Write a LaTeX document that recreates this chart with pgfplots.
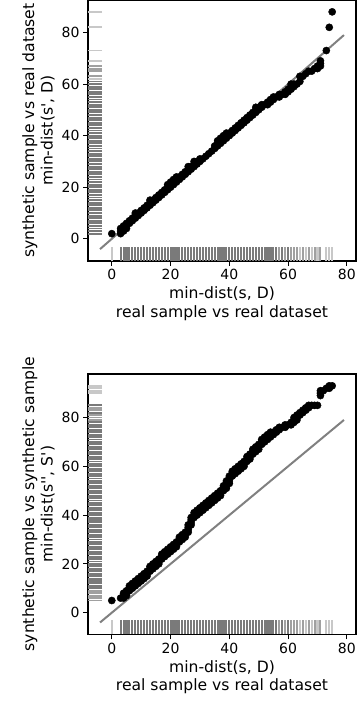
\documentclass[border=0pt]{standalone}
\usepackage{fontspec}
\setmainfont{DejaVu Sans}[Ligatures=TeXOff]
\usepackage{pgfplots}
\usepackage{pgfplotstable}
\pgfplotsset{compat=1.18}
\definecolor{rugdark}{RGB}{122,122,122}
\definecolor{rugmed}{RGB}{160,160,160}
\definecolor{ruglight}{RGB}{200,200,200}

% x rug (real sample vs real dataset), drawn at y=-6 in both panels
\pgfplotstableread{
x y
3 -6
4 -6
5 -6
6 -6
7 -6
8 -6
9 -6
10 -6
11 -6
12 -6
13 -6
14 -6
15 -6
16 -6
17 -6
18 -6
19 -6
20 -6
21 -6
22 -6
23 -6
24 -6
25 -6
26 -6
27 -6
28 -6
29 -6
30 -6
31 -6
32 -6
33 -6
34 -6
35 -6
36 -6
37 -6
38 -6
39 -6
40 -6
41 -6
42 -6
43 -6
44 -6
45 -6
46 -6
47 -6
48 -6
49 -6
50 -6
51 -6
52 -6
53 -6
54 -6
55 -6
56 -6
58 -6
60 -6
}\xrugdark
\pgfplotstableread{
x y
57 -6
59 -6
61 -6
62 -6
63 -6
65 -6
67 -6
69 -6
71 -6
}\xrugmed
\pgfplotstableread{
x y
0 -6
64 -6
66 -6
68 -6
70 -6
73 -6
74 -6
75 -6
}\xruglight

% top panel
\pgfplotstableread{
x y
0 2
3 2
3 3
3 4
4 3
4 4
4 5
5 4
5 5
5 6
6 6
6 7
7 7
7 8
8 8
8 9
8 10
9 9
9 10
10 10
10 11
11 11
11 12
12 12
12 13
13 13
13 14
13 15
14 14
14 15
15 15
15 16
16 16
16 17
17 17
17 18
18 18
18 19
19 19
19 20
19 21
20 20
20 21
20 22
21 21
21 22
21 23
22 22
22 23
22 24
23 23
23 24
24 24
24 25
25 25
25 26
26 26
26 27
26 28
27 27
27 28
28 28
28 29
28 30
29 29
29 30
30 30
30 31
31 31
32 32
33 33
34 34
35 35
35 36
36 36
36 37
36 38
37 37
37 38
37 39
38 38
38 39
38 40
39 39
39 40
39 41
40 40
40 41
41 41
41 42
42 42
42 43
43 43
43 44
44 44
44 45
45 45
45 46
46 46
46 47
47 47
47 48
48 48
48 49
49 49
49 50
49 51
50 50
50 51
51 51
51 52
52 52
53 52
53 53
54 53
54 54
55 54
55 55
56 55
57 55
57 56
58 56
59 56
59 57
60 57
60 58
61 58
61 59
61 60
62 59
62 60
63 60
64 61
64 63
65 63
66 64
67 65
68 65
69 66
70 66
70 67
71 67
71 68
71 69
73 73
74 82
75 88
}\topdata
\pgfplotstableread{
x y
-5.7 2
-5.7 3
-5.7 4
-5.7 5
-5.7 6
-5.7 7
-5.7 8
-5.7 9
-5.7 10
-5.7 11
-5.7 12
-5.7 13
-5.7 14
-5.7 15
-5.7 16
-5.7 17
-5.7 18
-5.7 19
-5.7 20
-5.7 21
-5.7 22
-5.7 23
-5.7 24
-5.7 25
-5.7 26
-5.7 27
-5.7 28
-5.7 29
-5.7 30
-5.7 31
-5.7 32
-5.7 33
-5.7 34
-5.7 35
-5.7 36
-5.7 37
-5.7 38
-5.7 39
-5.7 40
-5.7 41
-5.7 42
-5.7 43
-5.7 44
-5.7 45
-5.7 46
-5.7 47
-5.7 48
-5.7 49
-5.7 50
-5.7 51
-5.7 52
-5.7 53
-5.7 54
-5.7 55
-5.7 56
-5.7 57
-5.7 58
-5.7 59
-5.7 60
-5.7 61
}\topyrugdark
\pgfplotstableread{
x y
-5.7 63
-5.7 65
-5.7 66
-5.7 67
}\topyrugmed
\pgfplotstableread{
x y
-5.7 62
-5.7 69
-5.7 73
-5.7 82
-5.7 88
}\topyruglight

% bottom panel
\pgfplotstableread{
x y
0 5
3 6
4 6
4 7
4 8
5 7
5 8
5 9
6 9
6 10
6 11
7 10
7 11
7 12
8 11
8 12
8 13
9 12
9 13
9 14
10 13
10 14
10 15
11 14
11 15
11 16
12 15
12 16
12 17
13 17
13 18
13 19
14 18
14 19
14 20
15 19
15 20
15 21
16 20
16 21
16 22
17 22
17 23
17 24
18 23
18 24
18 25
19 24
19 25
19 26
20 25
20 26
20 27
21 26
21 27
21 28
22 27
22 28
22 29
23 29
23 30
23 31
24 30
24 31
24 32
25 31
25 32
25 33
26 33
26 34
26 35
26 36
27 36
27 37
27 38
27 39
28 39
28 40
28 41
29 40
29 41
29 42
30 41
30 42
30 43
31 42
31 43
31 44
32 43
32 44
32 45
33 44
33 45
33 46
34 45
34 46
34 47
35 46
35 47
35 48
36 47
36 48
36 49
37 48
37 49
37 50
38 50
38 51
38 52
39 51
39 52
39 53
39 54
40 53
40 54
40 55
40 56
41 56
41 57
41 58
42 57
42 58
42 59
43 58
43 59
43 60
44 59
44 60
44 61
45 60
45 61
45 62
46 62
46 63
46 64
47 63
47 64
47 65
48 65
48 66
48 67
49 66
49 67
49 68
50 67
50 68
50 69
51 69
51 70
51 71
52 70
52 71
52 72
53 71
53 72
53 73
54 72
54 73
54 74
55 73
55 74
56 74
56 75
57 75
57 76
58 76
59 76
59 77
60 77
61 77
61 78
62 78
62 79
62 80
63 79
63 80
63 81
64 81
64 82
65 82
65 83
66 83
66 84
67 84
67 85
68 85
69 85
70 85
71 89
71 90
71 91
72 91
73 92
74 92
74 93
75 93
}\botdata
\pgfplotstableread{
x y
-5.7 10
-5.7 11
-5.7 12
-5.7 13
-5.7 14
-5.7 15
-5.7 16
-5.7 17
-5.7 18
-5.7 19
-5.7 20
-5.7 21
-5.7 22
-5.7 23
-5.7 24
-5.7 25
-5.7 26
-5.7 27
-5.7 28
-5.7 29
-5.7 30
-5.7 31
-5.7 32
-5.7 33
-5.7 34
-5.7 35
-5.7 36
-5.7 37
-5.7 38
-5.7 39
-5.7 40
-5.7 41
-5.7 42
-5.7 43
-5.7 44
-5.7 45
-5.7 46
-5.7 47
-5.7 48
-5.7 49
-5.7 50
-5.7 51
-5.7 52
-5.7 53
-5.7 54
-5.7 55
-5.7 56
-5.7 57
-5.7 58
-5.7 59
-5.7 60
-5.7 61
-5.7 62
-5.7 63
-5.7 64
-5.7 65
-5.7 66
-5.7 67
-5.7 68
-5.7 69
-5.7 70
-5.7 71
-5.7 72
-5.7 73
-5.7 74
-5.7 75
-5.7 76
-5.7 77
-5.7 78
-5.7 82
-5.7 85
}\botyrugdark
\pgfplotstableread{
x y
-5.7 5
-5.7 6
-5.7 7
-5.7 8
-5.7 9
-5.7 79
-5.7 80
-5.7 81
-5.7 83
-5.7 84
}\botyrugmed
\pgfplotstableread{
x y
-5.7 90
-5.7 91
-5.7 92
-5.7 93
}\botyruglight

\pgfplotsset{
  myax/.style={
    scale only axis, width=268pt,
    xmin=-8.1, xmax=83.1,
    xtick={0,20,40,60,80}, ytick={0,20,40,60,80},
    xtick pos=lower, ytick pos=left,
    tick align=outside, major tick length=5pt,
    every tick/.style={black, line width=1.1pt},
    axis line style={black, line width=1.1pt},
    tick label style={font=\fontsize{14}{16}\selectfont},
    /pgf/number format/assume math mode=true,
    label style={font=\fontsize{15.6}{18.5}\selectfont, align=center},
    xlabel={min-dist(s, D)\\real sample vs real dataset},
  },
  xrug/.style={only marks, mark=|, mark size=6.85pt,
    mark options={line width=2.1pt, draw=#1}},
  yrug/.style={only marks, mark=-, mark size=7pt,
    mark options={line width=1.9pt, draw=#1}},
}

\begin{document}
\begin{tikzpicture}
\path[use as bounding box] (0pt,0pt) rectangle (360pt,704pt);

\begin{axis}[myax, at={(88pt,443pt)}, anchor=south west, height=261pt,
  ymin=-8.6, ymax=92.6,
  ylabel={synthetic sample vs real dataset\\min-dist(s', D)}]
  \addplot[xrug=rugdark] table {\xrugdark};
  \addplot[xrug=rugmed] table {\xrugmed};
  \addplot[xrug=ruglight] table {\xruglight};
  \addplot[yrug=rugdark] table {\topyrugdark};
  \addplot[yrug=rugmed] table {\topyrugmed};
  \addplot[yrug=ruglight] table {\topyruglight};
  \addplot[only marks, mark=*, mark size=3.6pt, black] table {\topdata};
  \addplot[no marks, gray, line width=2pt] coordinates {(-4,-4) (79,79)};
\end{axis}

\begin{axis}[myax, at={(88pt,69.7pt)}, anchor=south west, height=260.3pt,
  ymin=-8.85, ymax=97.85,
  ylabel={synthetic sample vs synthetic sample\\min-dist(s'', S')}]
  \addplot[xrug=rugdark] table {\xrugdark};
  \addplot[xrug=rugmed] table {\xrugmed};
  \addplot[xrug=ruglight] table {\xruglight};
  \addplot[yrug=rugdark] table {\botyrugdark};
  \addplot[yrug=rugmed] table {\botyrugmed};
  \addplot[yrug=ruglight] table {\botyruglight};
  \addplot[only marks, mark=*, mark size=3.6pt, black] table {\botdata};
  \addplot[no marks, gray, line width=2pt] coordinates {(-4,-4) (79,79)};
\end{axis}
\end{tikzpicture}
\end{document}
